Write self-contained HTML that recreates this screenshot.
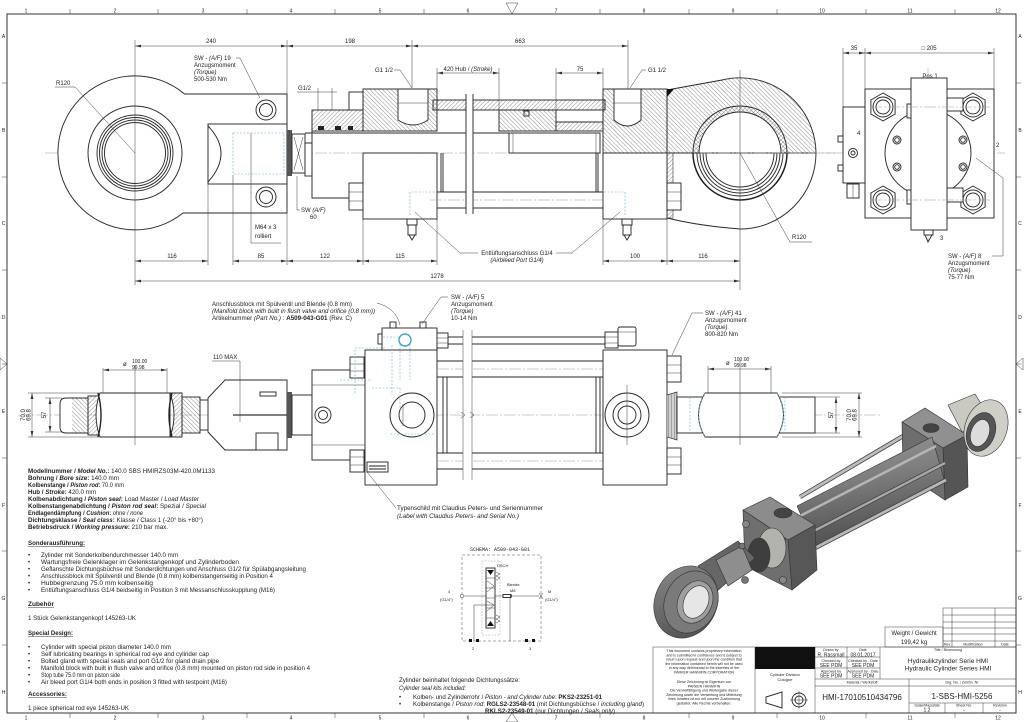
<!DOCTYPE html>
<html><head><meta charset="utf-8">
<style>
html,body{margin:0;padding:0;background:#fff;width:1024px;height:722px;overflow:hidden}
svg{display:block}
text{font-family:"Liberation Sans",Arial,sans-serif;fill:#222}
.l{stroke:#2a2a2a;stroke-width:.95;fill:none}
.lw{stroke:#2a2a2a;stroke-width:.95;fill:#fff}
.t{stroke:#3a3a3a;stroke-width:.5;fill:none}
.d{stroke:#3a3a3a;stroke-width:.5;fill:none;marker-start:url(#ar);marker-end:url(#ar)}
.c{stroke:#999;stroke-width:.5;stroke-dasharray:12 2 2 2;fill:none}
.bl{stroke:#5ab4d4;stroke-width:.6;stroke-dasharray:2 1.5;fill:none}
.f5{font-size:5px}.f6{font-size:6px}.f65{font-size:6.5px}.f4{font-size:4px}.f35{font-size:3.6px}.f8{font-size:8px}
.m{text-anchor:middle}
.b{font-weight:bold}.i{font-style:italic}
</style></head><body>
<svg xmlns="http://www.w3.org/2000/svg" width="1024" height="722" viewBox="0 0 1024 722">
<defs>
<pattern id="hs" width="3" height="3" patternUnits="userSpaceOnUse" patternTransform="rotate(45)"><line x1="0" y1="0" x2="0" y2="3" stroke="#333" stroke-width="0.55"/></pattern>
<pattern id="hb" width="3" height="3" patternUnits="userSpaceOnUse" patternTransform="rotate(-45)"><line x1="0" y1="0" x2="0" y2="3" stroke="#333" stroke-width="0.55"/></pattern>
<marker id="ar" markerWidth="6" markerHeight="4" refX="6" refY="2" orient="auto-start-reverse" markerUnits="userSpaceOnUse"><path d="M0,0.6 L6,2 L0,3.4z" fill="#333"/></marker>
<linearGradient id="tg" x1="0" y1="0" x2="0.25" y2="1"><stop offset="0" stop-color="#9a9a9a"/><stop offset="0.45" stop-color="#7e7e7e"/><stop offset="1" stop-color="#4e4e4e"/></linearGradient>
<linearGradient id="eg" x1="0" y1="0" x2="1" y2="1"><stop offset="0" stop-color="#8a8a8a"/><stop offset="1" stop-color="#4a4a4a"/></linearGradient>
</defs>
<rect width="1024" height="722" fill="#fff"/>

<!-- ============ FRAME ============ -->
<rect x="7" y="14" width="1009" height="699" class="l" stroke-width=".8"/>
<g class="t">
<path d="M70,9V14M158,9V14M247,9V14M335,9V14M424,9V14M600,9V14M689,9V14M777,9V14M866,9V14M955,9V14"/>
<path d="M70,713V718M158,713V718M247,713V718M335,713V718M424,713V718M600,713V718M689,713V718M777,713V718M866,713V718M955,713V718"/>
<path d="M2,83H7M2,177H7M2,270H7M2,364H7M2,458H7M2,551H7M2,645H7"/>
<path d="M1016,83H1021M1016,177H1021M1016,270H1021M1016,364H1021M1016,458H1021M1016,551H1021M1016,645H1021"/>
<path d="M506,3L518,3L512,14Z"/>
<path d="M506,722L518,722L512,713Z"/>
<path d="M0,358L0,370L7,364Z"/>
<path d="M1023,358L1023,370L1016,364Z"/>
</g>
<g class="f5 m">
<text x="26" y="12.5">1</text><text x="115" y="12.5">2</text><text x="203" y="12.5">3</text><text x="291" y="12.5">4</text><text x="380" y="12.5">5</text><text x="468" y="12.5">6</text><text x="556" y="12.5">7</text><text x="644" y="12.5">8</text><text x="733" y="12.5">9</text><text x="822" y="12.5">10</text><text x="910" y="12.5">11</text><text x="998" y="12.5">12</text>
<text x="26" y="719.5">1</text><text x="115" y="719.5">2</text><text x="203" y="719.5">3</text><text x="291" y="719.5">4</text><text x="380" y="719.5">5</text><text x="468" y="719.5">6</text><text x="556" y="719.5">7</text><text x="644" y="719.5">8</text><text x="733" y="719.5">9</text><text x="822" y="719.5">10</text><text x="910" y="719.5">11</text><text x="998" y="719.5">12</text>
<text x="3.5" y="38">A</text><text x="3.5" y="132">B</text><text x="3.5" y="225">C</text><text x="3.5" y="319">D</text><text x="3.5" y="413">E</text><text x="3.5" y="507">F</text><text x="3.5" y="600">G</text><text x="3.5" y="694">H</text>
<text x="1020" y="38">A</text><text x="1020" y="132">B</text><text x="1020" y="225">C</text><text x="1020" y="319">D</text><text x="1020" y="413">E</text><text x="1020" y="507">F</text><text x="1020" y="600">G</text><text x="1020" y="694">H</text>
</g>

<!-- ============ TOP SECTION VIEW ============ -->
<line x1="45" y1="153" x2="835" y2="153" class="c"/>
<path d="M184.5,94 L287,94 L287,213 L183,213 A77,77 0 1 1 184.5,94 Z" class="lw"/>
<g class="l">
<circle cx="135" cy="153" r="47"/><circle cx="135" cy="153" r="38"/><circle cx="135" cy="153" r="35.5"/><circle cx="135" cy="153" r="33"/><circle cx="135" cy="153" r="30.5"/>
<rect x="208" y="124" width="79" height="60"/>
<path d="M208,126 Q234,153 208,182"/>
<circle cx="266" cy="110" r="10"/><circle cx="266" cy="110" r="6.5"/>
<circle cx="266" cy="197" r="10"/><circle cx="266" cy="197" r="6.5"/>
</g>
<rect x="233" y="133" width="51" height="41" class="bl"/>
<line x1="135" y1="40" x2="135" y2="285" class="t"/>
<line x1="251" y1="133" x2="251" y2="243" class="t"/>
<line x1="251" y1="243" x2="281" y2="243" class="t"/>
<rect x="287" y="130" width="5" height="46" fill="#555"/>
<rect x="292" y="134" width="13" height="39" class="lw"/>
<path d="M294,137L303,170M303,137L294,170" class="t"/>
<rect x="305" y="143" width="7" height="33" class="lw"/>
<path d="M312,131V198H349" class="l"/>
<rect x="312" y="110" width="51" height="21" fill="url(#hs)" stroke="#2a2a2a" stroke-width=".95"/>
<rect x="318" y="126" width="6" height="4" fill="#222"/><rect x="335" y="126" width="6" height="4" fill="#222"/><rect x="348" y="126" width="5" height="4" fill="#222"/>
<path d="M318,88V110M332,88V110" class="t"/>
<rect x="349" y="92" width="14" height="18" class="lw"/>
<rect x="349" y="183" width="14" height="27" class="lw"/>
<path d="M349,192H363M349,201H363" class="t"/>
<rect x="363" y="89" width="74" height="42" fill="url(#hb)" stroke="#2a2a2a" stroke-width=".95"/>
<path d="M398,89V120Q413,130 428,120V89Z" class="lw"/>
<line x1="398" y1="103" x2="428" y2="103" class="t"/>
<rect x="363" y="153" width="74" height="66" class="lw"/>
<line x1="305" y1="133" x2="509" y2="133" class="l"/>
<rect x="433" y="100" width="172" height="10" fill="url(#hs)" stroke="#2a2a2a" stroke-width=".95"/>
<rect x="499" y="110" width="57" height="21" fill="url(#hb)" stroke="#2a2a2a" stroke-width=".95"/>
<rect x="556" y="110" width="47" height="12" class="lw"/>
<rect x="556" y="122" width="47" height="9" fill="url(#hs)" stroke="#2a2a2a" stroke-width=".95"/>
<rect x="509" y="133" width="91" height="20" class="lw"/>
<path d="M513,133V153M596,133V153" class="t"/>
<rect x="524" y="111" width="5" height="5" class="l"/>
<path d="M437,192H603M437,208H603M441,153V192M443,153V192M596,153V192M598,153V192" class="l"/>
<line x1="430" y1="200" x2="610" y2="200" class="c"/>
<rect x="603" y="89" width="64" height="64" fill="url(#hb)" stroke="#2a2a2a" stroke-width=".95"/>
<path d="M614,89V120Q627,132 641,120V89Z" class="lw"/>
<line x1="614" y1="103" x2="641" y2="103" class="t"/>
<rect x="603" y="153" width="64" height="66" class="lw"/>
<path d="M667,90 L722,80 A76,76 0 0 1 816,153 L667,153 Z" fill="url(#hb)" stroke="#2a2a2a" stroke-width=".95"/>
<path d="M667,89L674,89L667,97Z" fill="#111"/>
<path d="M693,153A47,47 0 0 1 787,153Z" fill="url(#hs)" stroke="#2a2a2a" stroke-width=".95"/>
<path d="M699,153A41,41 0 0 1 781,153Z" class="lw"/>
<path d="M667,218 Q700,226 740,229 A76,76 0 0 0 816,153" class="l"/>
<path d="M693,153A47,47 0 0 0 787,153" stroke="#222" stroke-width="1.5" fill="none"/>
<path d="M697,153A43,43 0 0 0 783,153M700,153A40,40 0 0 0 780,153M703,153A37,37 0 0 0 777,153M706,153A34,34 0 0 0 774,153" class="l"/>
<rect x="667" y="153" width="6" height="65" fill="url(#hs)" stroke="#333" stroke-width=".6"/>
<rect x="667" y="183" width="14" height="27" class="lw"/>
<path d="M667,192H681M667,201H681" class="t"/>
<line x1="740" y1="70" x2="740" y2="290" class="t"/>
<line x1="700" y1="153" x2="835" y2="153" class="c"/>
<rect x="466" y="94" width="7" height="120" fill="#fff"/>
<path d="M466,94V214M473,94V214" class="l"/>
<path d="M410,215V192H437M625,215V192H603" class="bl"/>
<g class="l"><rect x="407" y="219" width="10" height="6"/><rect x="408" y="225" width="8" height="10"/><path d="M409,235L412,240L415,235"/>
<rect x="622" y="219" width="10" height="6"/><rect x="623" y="225" width="8" height="10"/><path d="M624,235L627,240L630,235"/></g>
<path d="M287,40V94M412,40V88M628,40V89M437,68V100M499,68V110M556,68V110M603,68V89" class="t"/>
<line x1="135" y1="46" x2="287" y2="46" class="d"/>
<line x1="287" y1="46" x2="412" y2="46" class="d"/>
<line x1="412" y1="46" x2="628" y2="46" class="d"/>
<line x1="437" y1="73" x2="499" y2="73" class="d"/>
<line x1="556" y1="73" x2="603" y2="73" class="d"/>
<g class="f6 m"><text x="211" y="43">240</text><text x="350" y="43">198</text><text x="520" y="43">663</text><text x="580" y="71">75</text></g>
<text x="468" y="71" class="f6 m">420 Hub / <tspan class="i">(Stroke)</tspan></text>
<path d="M208,184V265M233,175V265M287,213V265M363,219V265M437,219V265M603,219V265M667,219V265" class="t"/>
<line x1="135" y1="261" x2="208" y2="261" class="d"/>
<line x1="233" y1="261" x2="287" y2="261" class="d"/>
<line x1="287" y1="261" x2="363" y2="261" class="d"/>
<line x1="363" y1="261" x2="437" y2="261" class="d"/>
<line x1="603" y1="261" x2="667" y2="261" class="d"/>
<line x1="667" y1="261" x2="740" y2="261" class="d"/>
<line x1="135" y1="281" x2="740" y2="281" class="d"/>
<g class="f6 m"><text x="172" y="258">116</text><text x="261" y="258">85</text><text x="325" y="258">122</text><text x="400" y="258">115</text><text x="635" y="258">100</text><text x="703" y="258">116</text><text x="437" y="278">1278</text></g>
<text x="56" y="85" class="f6">R120</text>
<path d="M55,87H75L135,153" class="t"/>
<g class="f6"><text x="194" y="60">SW - <tspan class="i">(A/F)</tspan>  19</text><text x="194" y="67">Anzugsmoment</text><text x="194" y="74" class="i">(Torque)</text><text x="194" y="81">500-530 Nm</text></g>
<path d="M236,58H240L260,98" class="t"/>
<text x="298" y="90" class="f6">G1/2</text>
<path d="M297,92H337" class="t"/>
<text x="301" y="212" class="f6">SW <tspan class="i">(A/F)</tspan></text><text x="310" y="219" class="f6">60</text>
<path d="M297,176V210H300" class="t"/>
<text x="255" y="229" class="f6">M64 x 3</text><text x="255" y="238" class="f6">rolliert</text>
<text x="375" y="72" class="f6">G1 1/2</text>
<path d="M394,70H400L412,88" class="t"/>
<text x="648" y="72" class="f6">G1 1/2</text>
<path d="M646,70H642L630,88" class="t"/>
<text x="517" y="255" class="f6 m">Entlüftungsanschluss G1/4</text>
<text x="517" y="262" class="f6 m i">(Airbleed Port G1/4)</text>
<path d="M478,253H460L415,212M556,253H572L620,212" class="t"/>
<text x="792" y="239" class="f6">R120</text>
<path d="M812,242H790L740,153" class="t"/>

<!-- ============ END VIEW ============ -->
<line x1="835" y1="153" x2="1005" y2="153" class="c"/>
<line x1="928" y1="68" x2="928" y2="242" class="c"/>
<rect x="865" y="89" width="129" height="129" class="lw"/>
<circle cx="928" cy="153" r="43" class="l"/>
<g class="l">
<polygon points="883,93 895.1,100 895.1,114 883,121 870.9,114 870.9,100" fill="#fff"/>
<polygon points="973,93 985.1,100 985.1,114 973,121 960.9,114 960.9,100" fill="#fff"/>
<polygon points="883,186 895.1,193 895.1,207 883,214 870.9,207 870.9,193" fill="#fff"/>
<polygon points="973,186 985.1,193 985.1,207 973,214 960.9,207 960.9,193" fill="#fff"/>
<circle cx="883" cy="107" r="10"/><circle cx="883" cy="107" r="7"/>
<circle cx="973" cy="107" r="10"/><circle cx="973" cy="107" r="7"/>
<circle cx="883" cy="200" r="10"/><circle cx="883" cy="200" r="7"/>
<circle cx="973" cy="200" r="10"/><circle cx="973" cy="200" r="7"/>
<circle cx="897" cy="140" r="4"/><circle cx="897" cy="140" r="2.3"/>
<circle cx="963" cy="140" r="4"/><circle cx="963" cy="140" r="2.3"/>
<circle cx="897" cy="167" r="4"/><circle cx="897" cy="167" r="2.3"/>
<circle cx="963" cy="167" r="4"/><circle cx="963" cy="167" r="2.3"/>
</g>
<rect x="947" y="98" width="16" height="13" class="lw"/>
<rect x="947" y="188" width="16" height="14" class="lw"/>
<rect x="907" y="104" width="4" height="14" class="lw"/>
<rect x="907" y="190" width="4" height="14" class="lw"/>
<rect x="911" y="78" width="36" height="152" class="lw"/>
<path d="M870,107H990M870,200H990" class="c"/>
<rect x="843" y="107" width="22" height="76" class="lw"/>
<rect x="838" y="136" width="5" height="6" class="lw"/><rect x="838" y="165" width="5" height="6" class="lw"/>
<circle cx="853" cy="153" r="4.5" class="l"/><circle cx="853" cy="153" r="2" class="l"/>
<rect x="847" y="184" width="12" height="14" class="lw"/><line x1="853" y1="184" x2="853" y2="198" class="t"/>
<rect x="924" y="230" width="9" height="5" class="lw"/><path d="M925,235L928,242L932,235" class="l"/>
<path d="M843,48V107M865,48V89M994,48V89" class="t"/>
<line x1="843" y1="53" x2="865" y2="53" class="d"/>
<line x1="865" y1="53" x2="994" y2="53" class="d"/>
<text x="854" y="50" class="f6 m">35</text>
<text x="929" y="50" class="f6 m">□ 205</text>
<text x="930" y="78" class="f6 m">Pos.1</text>
<text x="857" y="135" class="f6">4</text>
<text x="996" y="147" class="f6">2</text>
<text x="940" y="240" class="f6">3</text>
<g class="f6"><text x="948" y="258">SW - <tspan class="i">(A/F)</tspan>  8</text><text x="948" y="265">Anzugsmoment</text><text x="948" y="272" class="i">(Torque)</text><text x="948" y="279">75-77 Nm</text></g>
<path d="M992,256H1003V178L976,158" class="t"/>

<!-- ============ SIDE VIEW ============ -->
<line x1="18" y1="415" x2="880" y2="415" class="c"/>
<path d="M28,393H100M28,437H100M45,398H62M45,432H62" class="t"/>
<line x1="32" y1="393" x2="32" y2="437" class="d"/>
<line x1="50" y1="398" x2="50" y2="432" class="d"/>
<text transform="translate(25,415) rotate(-90)" class="f6 m">70.0</text>
<text transform="translate(30.5,415) rotate(-90)" class="f6 m">69.8</text>
<text transform="translate(46,415) rotate(-90)" class="f6 m">57</text>
<path d="M66,398H88V433H66Q60,433 60,427V404Q60,398 66,398Z" class="lw"/>
<rect x="72" y="398" width="16" height="35" fill="url(#hb)"/>
<rect x="88" y="396" width="12" height="39" fill="url(#hs)" stroke="#2a2a2a" stroke-width=".95"/>
<path d="M100,393H170V437H100Q92,415 100,393Z" class="lw"/>
<path d="M170,393Q178,415 170,437H182V393Z" fill="url(#hs)" stroke="#2a2a2a" stroke-width=".95"/>
<rect x="182" y="397" width="18" height="36" fill="url(#hb)" stroke="#2a2a2a" stroke-width=".95"/>
<path d="M98,393Q104,415 98,437M172,393Q166,415 172,437" stroke="#222" stroke-width="1.4" fill="none"/>
<line x1="135" y1="365" x2="135" y2="445" class="t"/>
<path d="M103,368V393M167,368V393" class="t"/>
<line x1="103" y1="370" x2="167" y2="370" class="d"/>
<text x="123" y="366" class="f6">ø</text><text x="132" y="363" class="f5">100.00</text><text x="132" y="369" class="f5">99.98</text>
<polygon points="208,398 225,380 287,380 287,450 225,450 208,432" class="lw"/>
<line x1="200" y1="400" x2="208" y2="400" class="l"/><line x1="200" y1="430" x2="208" y2="430" class="l"/>
<rect x="260" y="392" width="16" height="4" class="lw"/>
<rect x="256" y="433" width="22" height="17" class="lw"/>
<line x1="233" y1="415" x2="288" y2="415" stroke="#333" stroke-width="1.3"/>
<text x="213" y="359" class="f6">110 MAX</text>
<path d="M212,361H240V422" class="t"/>
<rect x="287" y="392" width="5" height="46" fill="#555"/>
<rect x="292" y="395" width="20" height="40" class="lw"/>
<rect x="312" y="370" width="53" height="90" class="lw"/>
<circle cx="323" cy="415" r="8" class="l"/><circle cx="323" cy="415" r="4.5" class="l"/>
<path d="M312,385H365M312,445H365" class="t"/>
<rect x="350" y="357" width="14" height="21" class="lw"/><path d="M350,364H364M350,371H364" class="t"/>
<rect x="350" y="450" width="14" height="22" class="lw"/><path d="M350,457H364M350,465H364" class="t"/>
<rect x="365" y="350" width="72" height="135" class="lw"/>
<circle cx="412" cy="415" r="22" class="l"/><circle cx="412" cy="415" r="13" class="l"/>
<path d="M403,404V426" class="t"/>
<rect x="382" y="328" width="55" height="22" class="lw"/>
<rect x="390" y="322" width="6" height="6" class="lw"/><rect x="420" y="322" width="6" height="6" class="lw"/>
<rect x="378" y="334" width="4" height="10" class="lw"/>
<circle cx="405" cy="340" r="6" stroke="#3aa5d8" stroke-width="1.4" fill="none"/>
<path d="M383,337H400M400,344V380M410,344V380M392,345V395M385,348H355V395M340,380H372" class="bl"/>
<path d="M390,434H434M372,388H400V410" class="bl"/>
<rect x="367" y="462" width="21" height="10" class="lw"/>
<path d="M369,466H386M369,469H386" stroke="#222" stroke-width="1"/>
<path d="M437,377H603M437,453H603M437,361H603M437,469H603M443,377V453M447,377V453M596,377V453M600,377V453" class="l"/>
<path d="M437,369H603M437,461H603" class="c"/>
<rect x="437" y="333" width="11" height="15" class="lw"/><path d="M437,338H448M437,343H448" class="t"/>
<path d="M448,337H605M448,344H605" class="l"/>
<rect x="605" y="332" width="13" height="16" class="lw"/><path d="M605,337H618M605,343H618" class="t"/>
<rect x="618" y="327" width="18" height="19" rx="2" class="lw"/><path d="M618,332H636" class="t"/>
<rect x="463" y="330" width="9" height="150" fill="#fff"/>
<path d="M463,330V480M472,330V480" class="t"/>
<path d="M461,412L465,415L461,418M470,412L474,415L470,418" class="t"/>
<rect x="603" y="350" width="64" height="135" class="lw"/>
<circle cx="627" cy="415" r="22" class="l"/><circle cx="627" cy="415" r="14" class="l"/><circle cx="627" cy="415" r="9" class="l"/>
<line x1="627" y1="385" x2="627" y2="445" class="t"/>
<rect x="667" y="356" width="14" height="26" class="lw"/><path d="M667,365H681M667,373H681" class="t"/>
<rect x="667" y="448" width="14" height="26" class="lw"/><path d="M667,457H681M667,465H681" class="t"/>
<path d="M667,395L677,392V440L667,437Z" fill="#fff" stroke="#333" stroke-width=".7"/>
<path d="M668.5,395V437M670,394V438M671.5,393.5V438.5M673,393V439M674.5,393V439M676,392.5V439.5" stroke="#444" stroke-width=".5"/>
<rect x="677" y="397" width="138" height="36" class="lw"/>
<path d="M705,393H777Q790,415 777,437H705Q692,415 705,393Z" class="lw"/>
<path d="M705,393Q692,415 705,437M777,393Q790,415 777,437" stroke="#5ab4d4" stroke-width=".7" stroke-dasharray="2 1.5" fill="none"/>
<path d="M690,397V433M785,397V433" class="bl"/>
<line x1="740" y1="360" x2="740" y2="445" class="t"/>
<path d="M708,366V393M771,366V393" class="t"/>
<line x1="708" y1="369" x2="771" y2="369" class="d"/>
<text x="726" y="365" class="f6">ø</text><text x="734" y="361" class="f5">100.00</text><text x="734" y="367" class="f5">99.98</text>
<path d="M815,397H840M815,433H840M782,393H862M782,437H862" class="t"/>
<line x1="836" y1="397" x2="836" y2="433" class="d"/>
<line x1="859" y1="393" x2="859" y2="437" class="d"/>
<text transform="translate(833,415) rotate(-90)" class="f6 m">57</text>
<text transform="translate(851,415) rotate(-90)" class="f6 m">70.0</text>
<text transform="translate(856.5,415) rotate(-90)" class="f6 m">69.8</text>
<g class="f6">
<text x="212" y="306" textLength="140" lengthAdjust="spacingAndGlyphs">Anschlussblock mit Spülventil und Blende (0.8 mm)</text>
<text x="212" y="313" class="i" textLength="163" lengthAdjust="spacingAndGlyphs">(Manifold block with built in flush valve and orifice (0.8 mm))</text>
<text x="212" y="320" textLength="140" lengthAdjust="spacingAndGlyphs">Artikelnummer  <tspan class="i">(Part No.)</tspan> : <tspan class="b">A509-043-G01</tspan> (Rev. C)</text>
<text x="451" y="299">SW - <tspan class="i">(A/F)</tspan>  5</text><text x="451" y="306">Anzugsmoment</text><text x="451" y="313" class="i">(Torque)</text><text x="451" y="320">10-14 Nm</text>
<text x="705" y="315">SW - <tspan class="i">(A/F)</tspan> 41</text><text x="705" y="322">Anzugsmoment</text><text x="705" y="329" class="i">(Torque)</text><text x="705" y="336">800-820 Nm</text>
</g>
<path d="M377,303Q396,308 400,325" class="t"/>
<path d="M448,297H441L422,324" class="t"/>
<path d="M703,313H692L672,355" class="t"/>
<path d="M367,472L396,508" class="t"/>
<text x="397" y="510" class="f6" textLength="146" lengthAdjust="spacingAndGlyphs">Typenschild mit Claudius Peters- und Seriennummer</text>
<text x="397" y="518" class="f6 i" textLength="122" lengthAdjust="spacingAndGlyphs">(Label with Claudius Peters- and Serial No.)</text>

<!-- ============ LEFT TEXT BLOCK ============ -->
<g class="f65">
<text x="28" y="473" textLength="187" lengthAdjust="spacingAndGlyphs"><tspan class="b">Modellnummer / <tspan class="i">Model No.</tspan>:</tspan>  140.0 SBS HMIRZS03M-420.0M1133</text>
<text x="28" y="480" textLength="91" lengthAdjust="spacingAndGlyphs"><tspan class="b">Bohrung / <tspan class="i">Bore size</tspan>:</tspan>  140.0 mm</text>
<text x="28" y="487" textLength="96" lengthAdjust="spacingAndGlyphs"><tspan class="b">Kolbenstange / <tspan class="i">Piston rod</tspan>:</tspan>  70.0 mm</text>
<text x="28" y="494" textLength="68" lengthAdjust="spacingAndGlyphs"><tspan class="b">Hub / <tspan class="i">Stroke</tspan>:</tspan>  420.0 mm</text>
<text x="28" y="501" textLength="171" lengthAdjust="spacingAndGlyphs"><tspan class="b">Kolbenabdichtung / <tspan class="i">Piston seal</tspan>:</tspan>  Load Master / <tspan class="i">Load Master</tspan></text>
<text x="28" y="508" textLength="178" lengthAdjust="spacingAndGlyphs"><tspan class="b">Kolbenstangenabdichtung / <tspan class="i">Piston rod seal</tspan>:</tspan>  Spezial / <tspan class="i">Special</tspan></text>
<text x="28" y="515" textLength="115" lengthAdjust="spacingAndGlyphs"><tspan class="b">Endlagendämpfung / <tspan class="i">Cushion</tspan>:</tspan>  ohne / <tspan class="i">none</tspan></text>
<text x="28" y="522" textLength="175" lengthAdjust="spacingAndGlyphs"><tspan class="b">Dichtungsklasse / <tspan class="i">Seal class</tspan>:</tspan>  Klasse / Class 1 (-20° bis +80°)</text>
<text x="28" y="529" textLength="140" lengthAdjust="spacingAndGlyphs"><tspan class="b">Betriebsdruck / <tspan class="i">Working pressure</tspan>:</tspan>  210 bar max.</text>
<text x="28" y="545" class="b" textLength="57" lengthAdjust="spacingAndGlyphs">Sonderausführung:</text>
</g>
<line x1="28" y1="546.5" x2="85" y2="546.5" class="t"/>
<g class="f6">
<text x="28" y="557">•</text><text x="41" y="557" textLength="137" lengthAdjust="spacingAndGlyphs">Zylinder mit Sonderkolbendurchmesser 140.0 mm</text>
<text x="28" y="564">•</text><text x="41" y="564" textLength="198" lengthAdjust="spacingAndGlyphs">Wartungsfreie Gelenklager im Gelenkstangenkopf und Zylinderboden</text>
<text x="28" y="571">•</text><text x="41" y="571" textLength="265" lengthAdjust="spacingAndGlyphs">Geflanschte Dichtungsbüchse mit Sonderdichtungen und Anschluss G1/2 für Spülabgangsleitung</text>
<text x="28" y="578">•</text><text x="41" y="578" textLength="232" lengthAdjust="spacingAndGlyphs">Anschlussblock mit Spülventil und Blende (0.8 mm) kolbenstangenseitig in Position 4</text>
<text x="28" y="585">•</text><text x="41" y="585" textLength="112" lengthAdjust="spacingAndGlyphs">Hubbegrenzung 75.0 mm kolbenseitig</text>
<text x="28" y="592">•</text><text x="41" y="592" textLength="234" lengthAdjust="spacingAndGlyphs">Entlüftungsanschluss G1/4 beidseitig in Position 3 mit Messanschlusskupplung (M16)</text>
</g>
<text x="28" y="606" class="f65 b" textLength="26" lengthAdjust="spacingAndGlyphs">Zubehör</text>
<line x1="28" y1="607.5" x2="54" y2="607.5" class="t"/>
<text x="28" y="620" class="f6" textLength="108" lengthAdjust="spacingAndGlyphs">1 Stück Gelenkstangenkopf 145263-UK</text>
<text x="28" y="635" class="f65 b" textLength="45" lengthAdjust="spacingAndGlyphs">Special Design:</text>
<line x1="28" y1="636.5" x2="73" y2="636.5" class="t"/>
<g class="f6">
<text x="28" y="649">•</text><text x="41" y="649" textLength="130" lengthAdjust="spacingAndGlyphs">Cylinder with special piston diameter 140.0 mm</text>
<text x="28" y="656">•</text><text x="41" y="656" textLength="168" lengthAdjust="spacingAndGlyphs">Self lubricating bearings in spherical rod eye and cylinder cap</text>
<text x="28" y="663">•</text><text x="41" y="663" textLength="178" lengthAdjust="spacingAndGlyphs">Bolted gland with special seals and port G1/2 for gland drain pipe</text>
<text x="28" y="670">•</text><text x="41" y="670" textLength="269" lengthAdjust="spacingAndGlyphs">Manifold block with built in flush valve and orifice (0.8 mm) mounted on piston rod side in position 4</text>
<text x="28" y="677">•</text><text x="41" y="677" textLength="79" lengthAdjust="spacingAndGlyphs">Stop tube 75.0 mm on piston side</text>
<text x="28" y="684">•</text><text x="41" y="684" textLength="186" lengthAdjust="spacingAndGlyphs">Air bleed port G1/4 both ends in position 3 fitted with testpoint (M16)</text>
</g>
<text x="28" y="696" class="f65 b" textLength="39" lengthAdjust="spacingAndGlyphs">Accessories:</text>
<line x1="28" y1="697.5" x2="67" y2="697.5" class="t"/>
<text x="28" y="710" class="f6" textLength="101" lengthAdjust="spacingAndGlyphs">1 piece spherical rod eye 145263-UK</text>

<!-- ============ SCHEMA ============ -->
<text x="500" y="551" class="f5 m" style="font-family:'Liberation Mono',monospace">SCHEMA: A509-043-G01</text>
<rect x="462" y="555" width="79" height="86" fill="none" stroke="#555" stroke-width=".5" stroke-dasharray="3 2"/>
<rect x="482" y="561" width="18" height="74" fill="none" stroke="#777" stroke-width=".4" stroke-dasharray="1.5 1.5"/>
<rect x="486" y="568" width="9" height="60" class="lw" stroke-width=".6"/>
<path d="M486,578H495M486,588H495M486,598H495M486,608H495M486,618H495" class="t"/>
<path d="M487,581L494,586M487,592L494,586M487,611L494,605M487,601L494,605" class="t"/>
<path d="M487,570H494L490.5,575Z M487,626H494L490.5,621Z" fill="#111"/>
<path d="M496,572L500,574L496,576L500,578L496,580M496,615L500,617L496,619L500,621L496,623" class="t"/>
<path d="M464,596H486M495,596H539M495,605H474V641M510,596V641" class="t" stroke-width=".6"/>
<circle cx="462" cy="596" r="1.8" fill="#fff" stroke="#333" stroke-width=".5"/>
<rect x="503" y="594.5" width="8" height="3" class="lw" stroke-width=".5"/>
<circle cx="511" cy="596" r="1" fill="#222"/>
<path d="M539,593L543,599M543,593L539,599" class="t"/>
<rect x="469" y="639" width="3" height="3" fill="#111"/><rect x="476" y="639" width="3" height="3" fill="#111"/>
<rect x="525" y="639" width="3" height="3" fill="#111"/><rect x="532" y="639" width="3" height="3" fill="#111"/>
<g class="f4" style="font-family:'Liberation Mono',monospace">
<text x="497" y="567">DSCH</text><text x="507" y="586">Blende</text><text x="510" y="592">M6</text>
<text x="448" y="593">4</text><text x="440" y="601">(G1/4")</text>
<text x="548" y="593">M</text><text x="545" y="601">(G1/4")</text>
<text x="472" y="650">2</text><text x="529" y="650">3</text>
</g>
<g class="f6">
<text x="399" y="682" textLength="121" lengthAdjust="spacingAndGlyphs">Zylinder beinhaltet folgende Dichtungssätze:</text>
<text x="399" y="690" class="i" textLength="67" lengthAdjust="spacingAndGlyphs">Cylinder seal kits included:</text>
<text x="399" y="699">•</text><text x="413" y="699" textLength="189" lengthAdjust="spacingAndGlyphs">Kolben- und Zylinderrohr / <tspan class="i">Piston - and Cylinder tube</tspan>: <tspan class="b">PKS2-23251-01</tspan></text>
<text x="399" y="706">•</text><text x="413" y="706" textLength="231" lengthAdjust="spacingAndGlyphs">Kolbenstange / <tspan class="i">Piston rod</tspan>: <tspan class="b">RGLS2-23548-01</tspan> (mit Dichtungsbüchse / <tspan class="i">including gland</tspan>)</text>
<text x="485" y="713" textLength="130" lengthAdjust="spacingAndGlyphs"><tspan class="b">RKLS2-23549-01</tspan> (nur Dichtungen / <tspan class="i">Seals only</tspan>)</text>
</g>

<!-- ============ 3D VIEW ============ -->
<g stroke="#333" stroke-width=".6">
<line x1="800" y1="497" x2="920" y2="426" stroke="#444" stroke-width="4.5"/>
<line x1="800" y1="497" x2="920" y2="426" stroke="#bdbdbd" stroke-width="2.8"/>
<polygon points="902,422 925,408 967,435 943,448" fill="#909090"/>
<polygon points="943,448 967,435 968,487 945,500" fill="#555"/>
<polygon points="902,422 943,448 945,500 903,472" fill="#6e6e6e"/>
<ellipse cx="931" cy="428" rx="8" ry="4.5" fill="#444"/>
<polygon points="948,405 975,394 990,418 962,432" fill="#c9c9c2"/>
<ellipse cx="986" cy="428" rx="21" ry="29" transform="rotate(20 986 428)" fill="#cfcfc8"/>
<ellipse cx="981" cy="432" rx="14" ry="20" transform="rotate(20 981 432)" fill="#555"/>
<ellipse cx="980" cy="433" rx="9" ry="14" transform="rotate(20 980 433)" fill="#dcdcdc"/>
<polygon points="797,506 932,437 944,479 815,547" fill="url(#tg)"/>
<line x1="800" y1="516" x2="936" y2="446" stroke="#b5b5b5" stroke-width="2.5"/>
<line x1="815" y1="548" x2="946" y2="480" stroke="#444" stroke-width="4.5"/>
<line x1="815" y1="548" x2="946" y2="480" stroke="#b8b8b8" stroke-width="2.8"/>
<line x1="812" y1="532" x2="945" y2="463" stroke="#444" stroke-width="4"/>
<line x1="812" y1="532" x2="945" y2="463" stroke="#a8a8a8" stroke-width="2.4"/>
<polygon points="743,510 770,497 815,525 788,540" fill="#8c8c8c"/>
<polygon points="788,540 815,525 817,570 792,590" fill="#575757"/>
<polygon points="743,510 788,540 792,590 745,566" fill="#6f6f6f"/>
<ellipse cx="783" cy="513" rx="9" ry="5" fill="#444"/>
<circle cx="746" cy="524" r="3.5" fill="#888"/><circle cx="782" cy="540" r="3.5" fill="#888"/><circle cx="783" cy="580" r="3.5" fill="#888"/>
<ellipse cx="772" cy="548" rx="14" ry="20" fill="#b3b3ad"/>
<ellipse cx="759" cy="555" rx="11" ry="17" fill="#3e3e3e"/>
<polygon points="698,566 738,541 755,558 716,592" fill="#666"/>
<polygon points="716,560 742,546 752,570 728,586" fill="#8e8e8e"/>
<circle cx="745" cy="580" r="3.5" fill="#777"/><circle cx="742" cy="546" r="3" fill="#777"/>
<ellipse cx="686" cy="602" rx="31" ry="37" transform="rotate(25 686 602)" fill="url(#eg)"/>
<ellipse cx="691" cy="602" rx="26" ry="32" transform="rotate(25 691 602)" fill="#7a7a7a"/>
<ellipse cx="695" cy="602" rx="17" ry="22" transform="rotate(25 695 602)" fill="#9f9f9f"/>
<ellipse cx="696" cy="602" rx="12" ry="17" transform="rotate(25 696 602)" fill="#e6e6e6"/>
</g>

<!-- ============ TITLE BLOCK ============ -->
<g class="t" stroke-width=".6">
<rect x="943" y="608" width="73" height="39"/>
<path d="M943,615H1016M943,622H1016M943,628H1016M943,634H1016M943,641H1016M952,608V647M995,608V647"/>
<rect x="885" y="627" width="58" height="20"/>
<rect x="653" y="647" width="363" height="66"/>
<path d="M755,647V713M815,647V713M880,647V679M847,647V679M815,657H880M815,668H880M815,679H1016M909,679V713M815,686H909M909,686H1016M909,703H1016M945,703V713M983,703V713"/>
</g>
<text x="914" y="635" class="f6 m">Weight / Gewicht</text>
<text x="914" y="644" class="f6 m">199,42 kg</text>
<g class="f35 m"><text x="947.5" y="645.5">Rev.</text><text x="973" y="645.5">Modification</text><text x="1005" y="645.5">Date</text></g>
<g class="f35 m">
<text x="704" y="652">This document contains proprietary information</text>
<text x="704" y="656.3">and is submitted in confidence and is subject to</text>
<text x="704" y="660.6">return upon request and upon the condition that</text>
<text x="704" y="664.9">the information contained herein will not be used</text>
<text x="704" y="669.2">in any way detrimental to the interests of the</text>
<text x="704" y="673.5">PARKER HANNIFIN CORPORATION</text>
<text x="704" y="683">Diese Zeichnung ist Eigentum von</text>
<text x="704" y="687.3">PARKER HANNIFIN</text>
<text x="704" y="691.6">Die Vervielfältigung und Weitergabe dieser</text>
<text x="704" y="695.9">Zeichnung sowie die Verwertung und Mitteilung</text>
<text x="704" y="700.2">ihres Inhaltes ist nur mit unserer Zustimmung</text>
<text x="704" y="704.5">gestattet. Alle Rechte vorbehalten.</text>
</g>
<rect x="755" y="647" width="60" height="22" fill="#111"/>
<text x="785" y="676" class="f4 m">Cylinder Division</text>
<text x="785" y="681" class="f4 m">Cologne</text>
<path d="M766,697L782,692V708L766,703Z" class="l" stroke-width=".6"/>
<circle cx="799" cy="700" r="7" class="l" stroke-width=".6"/><circle cx="799" cy="700" r="4" class="l" stroke-width=".6"/>
<path d="M790,700H808M799,691V709" class="t"/>
<g class="f35 m">
<text x="831" y="651">Drawn by</text><text x="863" y="651">Date</text>
<text x="831" y="662">Checked by</text><text x="863" y="662">Checked by - Date</text>
<text x="831" y="672.5">Approved by</text><text x="863" y="672.5">Approved by - Date</text>
<text x="862" y="683.5">Material / Werkstoff</text>
<text x="962" y="683.5">Drg. No. / Zeichn. Nr</text>
<text x="927" y="706.5">Scale/Massstab</text><text x="964" y="706.5">Sheet No.</text><text x="1000" y="706.5">Revision</text>
<text x="948" y="651">Title / Benennung</text>
</g>
<g class="f5 m">
<text x="831" y="656.5">R. Rassmall</text><text x="863" y="656.5">08.01.2017</text>
<text x="831" y="667">SEE PDM</text><text x="863" y="667">SEE PDM</text>
<text x="831" y="677.5">SEE PDM</text><text x="863" y="677.5">SEE PDM</text>
<text x="927" y="711.5">1:2</text><text x="964" y="711.5">-</text><text x="1000" y="711.5">-</text>
</g>
<text x="948" y="663" class="f65 m">Hydraulikzylinder Serie HMI</text>
<text x="948" y="670.5" class="f65 m">Hydraulic Cylinder Series HMI</text>
<text x="862" y="700" class="f8 m">HMI-17010510434796</text>
<text x="962" y="699" class="f8 m">1-SBS-HMI-5256</text>
</svg>
</body></html>
